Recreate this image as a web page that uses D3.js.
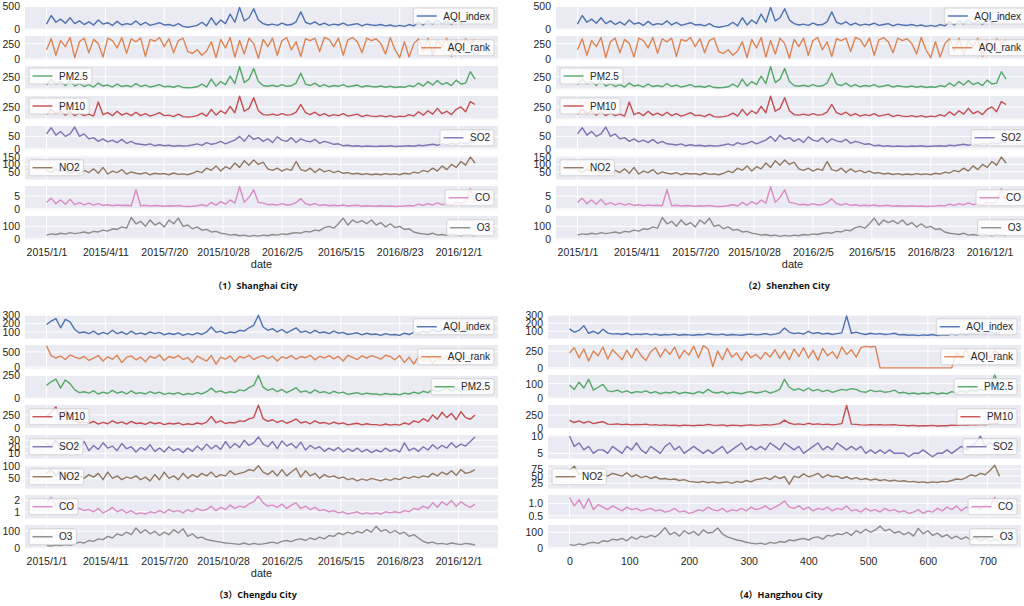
<!DOCTYPE html>
<html>
<head>
<meta charset="utf-8">
<script src="https://cdn.jsdelivr.net/npm/d3@7"></script>
<style>
  body { margin: 0; background: #fff; }
  svg { font-family: "Liberation Sans", Arial, sans-serif; }
</style>
</head>
<body>
<svg id="chart" width="1024" height="606"></svg>
<script>
// pollutant names and seaborn "deep" colours, one per subplot row
var pollutants = ["AQI_index", "AQI_rank", "PM2.5", "PM10", "SO2", "NO2", "CO", "O3"];
var colors = ["#4C72B0", "#DD8452", "#55A868", "#C44E52", "#8172B3", "#937860", "#DA8BC3", "#8C8C8C"];

// x ticks every 100 days (or 100 records for Hangzhou)
var xTickValues = [0, 100, 200, 300, 400, 500, 600, 700];
var dateTickLabels = ["2015/1/1", "2015/4/11", "2015/7/20", "2015/10/28", "2016/2/5", "2016/5/15", "2016/8/23", "2016/12/1"];
var indexTickLabels = ["0", "100", "200", "300", "400", "500", "600", "700"];

// values, one every 8 days from 2015/1/1
var shAQI = [110, 300, 150, 220, 130, 250, 120, 180, 100, 160,
  90, 200, 110, 140, 80, 170, 90, 120, 100, 180,
  90, 150, 80, 110, 140, 90, 100, 70, 120, 60,
  40, 60, 80, 150, 70, 250, 90, 200, 120, 330,
  150, 480, 180, 250, 450, 200, 120, 90, 110, 80,
  130, 90, 100, 160, 380, 150, 110, 160, 90, 130,
  80, 110, 90, 130, 80, 100, 120, 70, 110, 90,
  80, 100, 70, 90, 60, 80, 60, 100, 70, 160,
  90, 180, 110, 200, 120, 170, 100, 220, 130, 190,
  330, 200];
var shRank = [150, 330, 60, 300, 200, 350, 20, 280, 340, 100,
  320, 250, 30, 340, 300, 180, 350, 90, 330, 280,
  340, 40, 320, 290, 350, 200, 330, 100, 300, 340,
  120, 90, 150, 60, 130, 280, 20, 320, 180, 350,
  30, 300, 80, 340, 250, 10, 320, 200, 340, 60,
  300, 350, 150, 280, 40, 330, 300, 340, 120, 350,
  320, 200, 340, 60, 310, 350, 280, 100, 340, 300,
  330, 250, 80, 350, 150, 20, 280, 30, 250, 330,
  120, 340, 60, 300, 200, 340, 40, 310, 150, 330,
  250, 320];
var shPM25 = [80, 200, 100, 150, 70, 170, 60, 110, 50, 90,
  40, 120, 60, 80, 40, 100, 50, 70, 45, 110,
  50, 80, 40, 60, 90, 45, 55, 35, 70, 30,
  25, 30, 45, 100, 40, 200, 60, 150, 90, 260,
  110, 450, 130, 200, 415, 150, 70, 55, 75, 50,
  90, 55, 65, 120, 320, 100, 70, 120, 50, 90,
  45, 70, 55, 90, 45, 60, 80, 40, 65, 50,
  40, 60, 35, 55, 30, 45, 35, 70, 45, 120,
  60, 150, 80, 170, 90, 130, 70, 180, 100, 120,
  350, 200];
var shPM10 = [90, 200, 110, 160, 80, 150, 70, 120, 70, 100,
  60, 350, 90, 130, 70, 160, 80, 120, 70, 140,
  70, 110, 60, 90, 130, 70, 80, 50, 100, 50,
  40, 50, 70, 120, 60, 200, 80, 170, 110, 260,
  130, 470, 160, 220, 440, 170, 90, 80, 100, 75,
  110, 80, 90, 140, 300, 130, 90, 140, 70, 110,
  60, 90, 70, 110, 60, 80, 100, 50, 80, 60,
  50, 70, 45, 70, 40, 60, 50, 90, 60, 150,
  80, 170, 100, 220, 110, 160, 90, 200, 250, 150,
  360, 300];
var shSO2 = [60, 85, 55, 70, 50, 60, 88, 50, 60, 40,
  45, 30, 40, 28, 35, 25, 38, 22, 30, 20,
  18, 15, 20, 12, 16, 12, 14, 10, 13, 11,
  12, 15, 20, 14, 25, 18, 22, 30, 20, 28,
  35, 50, 30, 55, 38, 45, 30, 40, 25, 48,
  35, 30, 45, 25, 40, 32, 28, 38, 22, 30,
  25, 18, 20, 12, 14, 10, 12, 9, 11, 10,
  9, 11, 10, 12, 9, 10, 11, 12, 10, 14,
  12, 15, 18, 14, 20, 16, 22, 18, 25, 20,
  28, 24];
var shNO2 = [60, 45, 70, 50, 65, 40, 55, 35, 60, 45,
  70, 40, 80, 35, 55, 45, 65, 35, 50, 40,
  35, 45, 30, 40, 35, 38, 30, 42, 33, 36,
  30, 40, 55, 45, 75, 60, 90, 55, 85, 70,
  110, 80, 125, 95, 130, 100, 115, 70, 60, 75,
  55, 70, 60, 120, 65, 55, 75, 45, 70, 50,
  60, 45, 55, 40, 45, 35, 40, 32, 38, 30,
  35, 30, 38, 32, 36, 30, 40, 35, 48, 42,
  60, 50, 75, 55, 90, 65, 100, 80, 120, 95,
  150, 110];
var shCO = [2.5, 4.2, 2.0, 3.5, 1.8, 3.8, 1.6, 2.4, 1.5, 2.2,
  1.4, 2.0, 1.3, 1.6, 1.2, 1.5, 1.3, 1.4, 1.2, 7.5,
  1.2, 1.4, 1.1, 1.3, 1.2, 1.0, 1.2, 1.1, 1.3, 1.0,
  0.9, 1.0, 1.2, 1.6, 1.1, 2.5, 1.4, 2.8, 1.8, 3.5,
  2.2, 8.7, 2.6, 4.5, 7.5, 2.5, 2.2, 1.6, 1.8, 1.4,
  2.0, 1.5, 1.7, 2.4, 4.0, 2.0, 1.5, 2.0, 1.3, 1.6,
  1.2, 1.4, 1.2, 1.5, 1.1, 1.3, 1.4, 1.0, 1.2, 1.1,
  1.0, 1.2, 1.0, 1.1, 0.9, 1.0, 1.1, 1.3, 1.1, 1.8,
  1.3, 2.0, 1.5, 2.3, 1.6, 2.0, 1.5, 2.6, 1.8, 3.0,
  8.0, 2.5];
var shO3 = [30, 40, 35, 45, 38, 50, 42, 48, 55, 45,
  60, 55, 70, 62, 80, 75, 95, 85, 170, 120,
  140, 100, 150, 110, 130, 95, 150, 120, 165, 100,
  110, 80, 95, 70, 75, 55, 60, 45, 40, 30,
  35, 25, 30, 20, 28, 22, 30, 25, 35, 30,
  40, 35, 45, 50, 45, 60, 55, 70, 65, 90,
  100, 85, 120, 165, 110, 150, 130, 145, 120, 150,
  110, 130, 95, 120, 90, 100, 75, 80, 55, 45,
  40, 35, 45, 30, 35, 28, 40, 30, 25, 35,
  30, 25];

var cdAQI = [190, 230, 260, 150, 250, 220, 130, 90, 100, 80,
  110, 70, 95, 75, 120, 80, 100, 70, 110, 75,
  90, 70, 100, 80, 95, 65, 85, 70, 90, 60,
  80, 65, 90, 70, 100, 160, 95, 110, 80, 100,
  90, 120, 110, 150, 180, 300, 160, 120, 140, 100,
  130, 90, 120, 150, 95, 110, 85, 120, 90, 100,
  80, 110, 85, 95, 70, 80, 90, 65, 85, 70,
  75, 60, 80, 65, 70, 60, 85, 70, 95, 80,
  110, 90, 130, 100, 120, 150, 110, 140, 100, 130,
  120, 150];
var cdRank = [700, 380, 300, 360, 250, 400, 330, 280, 350, 220,
  300, 380, 200, 340, 260, 390, 150, 320, 370, 240,
  330, 180, 360, 290, 400, 220, 350, 300, 380, 250,
  320, 150, 360, 280, 200, 380, 100, 330, 260, 370,
  180, 350, 300, 390, 250, 330, 380, 280, 360, 200,
  340, 290, 380, 260, 350, 310, 390, 240, 360, 300,
  380, 270, 350, 200, 390, 320, 250, 370, 300, 380,
  330, 260, 390, 350, 240, 380, 150, 330, 100, 360,
  200, 340, 120, 300, 250, 360, 180, 320, 280, 350,
  260, 330];
var cdPM25 = [140, 180, 210, 110, 200, 160, 90, 60, 70, 55,
  80, 45, 65, 50, 85, 55, 70, 45, 80, 50,
  60, 45, 70, 50, 65, 40, 55, 45, 60, 35,
  50, 40, 60, 45, 70, 110, 65, 80, 55, 70,
  60, 90, 80, 115, 140, 250, 120, 85, 105, 70,
  95, 60, 85, 115, 65, 80, 55, 90, 60, 70,
  50, 75, 55, 65, 40, 50, 60, 40, 55, 45,
  45, 35, 50, 40, 45, 35, 55, 45, 65, 50,
  75, 60, 95, 70, 85, 115, 75, 105, 70, 95,
  85, 115];
var cdPM10 = [220, 300, 400, 180, 330, 260, 140, 100, 120, 95,
  130, 80, 110, 85, 140, 95, 120, 80, 130, 90,
  100, 75, 115, 85, 105, 70, 95, 80, 100, 65,
  85, 70, 100, 80, 115, 220, 105, 140, 90, 110,
  100, 140, 130, 175, 200, 430, 180, 130, 160, 110,
  145, 95, 130, 175, 100, 125, 85, 140, 95, 110,
  80, 115, 85, 100, 65, 80, 95, 65, 85, 70,
  70, 55, 80, 60, 75, 60, 100, 75, 140, 110,
  180, 130, 250, 170, 300, 200, 280, 160, 310, 200,
  170, 250];
var cdSO2 = [25, 20, 30, 18, 22, 15, 24, 18, 28, 14,
  22, 16, 26, 18, 21, 14, 25, 17, 20, 12,
  19, 15, 23, 13, 18, 12, 20, 14, 17, 11,
  18, 13, 21, 15, 24, 17, 22, 16, 28, 18,
  25, 19, 30, 22, 26, 35, 24, 20, 28, 17,
  29, 21, 25, 18, 27, 15, 22, 17, 20, 13,
  18, 14, 19, 12, 17, 13, 18, 12, 16, 11,
  15, 12, 18, 13, 16, 12, 26, 14, 18, 13,
  20, 15, 23, 17, 22, 18, 26, 19, 24, 21,
  28, 35];
var cdNO2 = [70, 85, 60, 80, 55, 65, 45, 60, 50, 65,
  55, 70, 45, 75, 50, 60, 45, 55, 50, 60,
  45, 55, 40, 65, 45, 75, 50, 60, 45, 70,
  50, 65, 55, 70, 60, 75, 55, 65, 60, 80,
  65, 70, 75, 85, 80, 100, 75, 65, 80, 60,
  85, 60, 75, 90, 55, 80, 60, 70, 50, 65,
  55, 60, 50, 55, 45, 50, 40, 48, 42, 50,
  45, 40, 48, 42, 50, 45, 55, 50, 58, 52,
  60, 55, 70, 60, 75, 65, 80, 62, 85, 70,
  75, 85];
var cdCO = [1.8, 2.3, 1.5, 2.0, 1.4, 1.6, 1.2, 1.3, 1.1, 1.2,
  1.0, 1.3, 0.9, 1.1, 1.4, 1.0, 1.2, 0.9, 1.1, 0.8,
  0.9, 0.8, 1.0, 0.9, 1.1, 0.9, 1.2, 1.0, 1.1, 0.9,
  1.2, 1.0, 1.3, 1.1, 1.2, 1.5, 1.1, 1.4, 1.2, 1.6,
  1.3, 1.5, 1.4, 1.7, 1.9, 2.4, 1.8, 1.5, 1.6, 1.4,
  1.7, 1.3, 1.6, 1.8, 1.3, 1.5, 1.2, 1.4, 1.1, 1.2,
  1.0, 1.1, 0.9, 1.0, 0.8, 0.9, 1.0, 0.8, 0.9, 0.8,
  0.9, 0.8, 1.0, 0.9, 1.0, 0.9, 1.1, 1.0, 1.3, 1.2,
  1.5, 1.3, 1.8, 1.4, 1.9, 1.6, 2.0, 1.5, 1.9, 1.6,
  1.4, 1.7];
var cdO3 = [15, 12, 18, 14, 20, 16, 25, 35, 30, 45,
  40, 55, 50, 70, 60, 85, 75, 95, 80, 120,
  90, 110, 85, 100, 75, 95, 80, 110, 90, 115,
  70, 85, 60, 65, 50, 45, 40, 35, 30, 28,
  25, 22, 30, 20, 28, 22, 25, 30, 35, 28,
  40, 45, 38, 50, 55, 45, 60, 50, 65, 55,
  75, 70, 90, 80, 95, 85, 100, 90, 110, 95,
  130, 100, 110, 90, 105, 85, 95, 70, 80, 60,
  40, 30, 35, 25, 28, 22, 30, 25, 20, 28,
  24, 18];

// Hangzhou: one value every 8 records, records 0..720
var hzAQI = [130, 90, 110, 170, 75, 100, 70, 125, 80, 65,
  70, 60, 75, 55, 65, 60, 70, 55, 65, 50,
  60, 55, 65, 50, 60, 55, 50, 60, 55, 70,
  60, 55, 65, 50, 60, 55, 50, 60, 65, 55,
  60, 70, 55, 65, 80, 140, 90, 70, 80, 65,
  100, 70, 85, 65, 75, 60, 70, 80, 290, 75,
  90, 70, 60, 75, 65, 70, 60, 65, 75, 55,
  60, 50, 55, 45, 55, 50, 60, 45, 55, 50,
  65, 55, 70, 60, 75, 65, 80, 70, 90, 75,
  85];
var hzRank = [220, 300, 150, 280, 100, 250, 180, 310, 130, 270,
  200, 120, 260, 150, 290, 180, 110, 240, 300, 160,
  280, 200, 310, 140, 260, 190, 320, 150, 330, 280,
  20, 250, 120, 290, 160, 220, 110, 240, 150, 200,
  130, 230, 160, 270, 140, 250, 120, 280, 170, 300,
  150, 260, 110, 290, 180, 240, 140, 310, 200, 270,
  160, 300, 320, 310, 320, 0, 0, 0, 0, 0,
  0, 0, 0, 0, 0, 0, 0, 0, 0, 0,
  0, 220, 150, 280, 120, 250, 180, 230, 140, 260,
  200];
var hzPM25 = [90, 60, 110, 70, 130, 55, 75, 95, 50, 45,
  55, 40, 50, 35, 45, 40, 50, 35, 45, 30,
  40, 35, 45, 30, 40, 35, 30, 45, 35, 60,
  40, 35, 45, 30, 40, 35, 30, 40, 45, 35,
  40, 50, 35, 45, 60, 130, 75, 55, 65, 50,
  70, 50, 60, 45, 55, 40, 50, 60, 55, 65,
  60, 45, 40, 55, 45, 50, 40, 45, 55, 35,
  40, 30, 35, 28, 35, 30, 40, 28, 35, 30,
  45, 35, 50, 40, 55, 45, 60, 50, 70, 160,
  80];
var hzPM10 = [150, 110, 140, 100, 130, 90, 110, 125, 80, 75,
  85, 70, 80, 65, 75, 70, 80, 60, 70, 55,
  65, 55, 60, 50, 60, 55, 50, 60, 55, 75,
  60, 55, 65, 50, 60, 55, 50, 60, 65, 55,
  60, 70, 60, 75, 90, 155, 100, 75, 85, 70,
  95, 75, 85, 70, 80, 65, 75, 90, 430, 80,
  75, 65, 60, 70, 65, 70, 60, 65, 70, 55,
  55, 50, 55, 45, 50, 48, 55, 45, 50, 48,
  60, 55, 65, 58, 70, 62, 75, 65, 85, 90,
  100];
var hzSO2 = [10, 7, 8, 6, 7, 5, 6, 6, 5, 7,
  6, 5, 7, 6, 8, 6, 5, 7, 6, 5,
  7, 8, 6, 7, 5, 6, 7, 6, 5, 6,
  5, 6, 7, 5, 6, 7, 8, 6, 7, 6,
  7, 6, 8, 7, 6, 8, 7, 6, 7, 5,
  6, 7, 8, 6, 7, 6, 8, 7, 6, 7,
  6, 7, 5, 6, 5, 6, 5, 6, 5, 5,
  5, 4, 5, 5, 6, 5, 4, 5, 5, 6,
  5, 6, 7, 6, 7, 8, 10, 7, 8, 7,
  8];
var hzNO2 = [70, 85, 55, 65, 50, 60, 45, 55, 50, 60,
  55, 50, 62, 48, 55, 45, 50, 42, 48, 40,
  42, 38, 40, 35, 38, 32, 30, 28, 32, 27,
  30, 26, 28, 30, 25, 32, 28, 35, 30, 38,
  40, 45, 38, 50, 42, 48, 22, 50, 45, 58,
  48, 52, 60, 45, 55, 48, 50, 42, 48, 40,
  45, 38, 42, 36, 40, 35, 38, 33, 36, 32,
  34, 30, 32, 28, 30, 27, 30, 28, 32, 30,
  35, 40, 38, 45, 55, 50, 60, 55, 70, 88,
  50];
var hzCO = [1.25, 0.9, 1.15, 0.8, 1.2, 0.75, 0.95, 0.85, 0.75, 0.9,
  0.8, 0.7, 0.85, 0.75, 0.8, 0.7, 0.75, 0.8, 0.7, 0.75,
  0.65, 0.7, 0.8, 0.65, 0.7, 0.6, 0.65, 0.75, 0.7, 0.85,
  0.75, 0.7, 0.8, 0.65, 0.75, 0.7, 0.8, 0.7, 0.85, 0.75,
  0.8, 0.9, 0.75, 0.85, 0.95, 1.1, 0.85, 0.8, 0.9, 0.75,
  0.85, 0.7, 0.8, 0.75, 0.85, 0.7, 0.8, 0.75, 0.9, 0.7,
  0.75, 0.65, 0.8, 0.7, 0.75, 0.65, 0.8, 0.7, 0.75, 0.65,
  0.7, 0.6, 0.65, 0.75, 0.6, 0.7, 0.65, 0.8, 0.7, 0.85,
  0.75, 0.9, 0.7, 0.85, 0.8, 0.9, 0.75, 0.95, 0.85, 1.25,
  0.9];
var hzO3 = [20, 15, 25, 18, 30, 35, 28, 45, 40, 55,
  50, 60, 45, 70, 55, 75, 65, 80, 70, 95,
  130, 85, 100, 75, 110, 90, 105, 80, 115, 95,
  100, 128, 90, 70, 60, 50, 45, 35, 30, 25,
  30, 22, 35, 28, 40, 35, 50, 45, 55, 60,
  50, 65, 70, 55, 80, 75, 90, 85, 100, 80,
  110, 95, 120, 100, 115, 140, 110, 120, 95, 105,
  85, 100, 75, 125, 90, 110, 80, 95, 70, 85,
  60, 75, 55, 70, 50, 65, 45, 60, 40, 55,
  45];

// y view limits and tick values per row
var shDomains = [[-10, 510], [-10, 375], [-10, 465], [-10, 475], [-3, 92], [-2, 157], [-0.3, 9], [-5, 182]];
var shTicks = [[0, 500], [0, 250], [0, 250], [0, 250], [0, 50], [50, 100, 150], [0, 5], [0, 100]];
var cdDomains = [[22, 303], [-45, 728], [-5, 255], [-3, 435], [2, 38], [10, 103], [0.4, 2.5], [-3, 138]];
var cdTicks = [[100, 200, 300], [0, 500], [0, 250], [0, 250], [10, 20, 30], [50, 100], [1, 2], [0, 100]];
var hzDomains = [[10, 302], [-10, 340], [-3, 160], [-3, 440], [3.5, 10.3], [7, 89], [0.39, 1.34], [-5, 147]];
var hzTicks = [[100, 200, 300], [0, 250], [0, 100], [0, 250], [5, 10], [25, 50, 75], [0.5, 1.0], [0, 100]];

// legend placement per row: r/l = right/left, u/c = upper/center
var shLegend = ["ru", "rc", "lu", "lu", "rc", "lc", "rc", "rc"];
var cdLegend = ["rc", "rc", "rc", "lc", "lc", "lc", "lc", "lc"];
var hzLegend = ["rc", "rc", "rc", "rc", "rc", "lc", "rc", "rc"];

var shanghai = [shAQI, shRank, shPM25, shPM10, shSO2, shNO2, shCO, shO3];
var chengdu = [cdAQI, cdRank, cdPM25, cdPM10, cdSO2, cdNO2, cdCO, cdO3];
var hangzhou = [hzAQI, hzRank, hzPM25, hzPM10, hzSO2, hzNO2, hzCO, hzO3];

var panels = [
  { title: "（1）Shanghai City", ox: 0, oy: 0, series: shanghai, domains: shDomains, ticks: shTicks, legend: shLegend, xLabels: dateTickLabels, xName: "date", xDomain: [-36.5, 767] },
  { title: "（2）Shenzhen City", ox: 531, oy: 0, series: shanghai, domains: shDomains, ticks: shTicks, legend: shLegend, xLabels: dateTickLabels, xName: "date", xDomain: [-36.5, 767] },
  { title: "（3）Chengdu City", ox: 0, oy: 309, series: chengdu, domains: cdDomains, ticks: cdTicks, legend: cdLegend, xLabels: dateTickLabels, xName: "date", xDomain: [-36.5, 767] },
  { title: "（4）Hangzhou City", ox: 523, oy: 309, series: hangzhou, domains: hzDomains, ticks: hzTicks, legend: hzLegend, xLabels: indexTickLabels, xName: "", xDomain: [-36, 756] }
];

var step = 8;
var margin = { left: 25, top: 6 };
var width = 473,
    rowH = 23.5,
    rowStep = 30;
var axisBottomY = 7 * rowStep + rowH;

var svg = d3.select("#chart");

panels.forEach(function(p) {
  var g = svg.append("g")
    .attr("transform", "translate(" + (p.ox + margin.left) + "," + (p.oy + margin.top) + ")");

  var x = d3.scaleLinear().domain(p.xDomain).range([0, width]);

  p.series.forEach(function(values, r) {
    var row = g.append("g").attr("transform", "translate(0," + (r * rowStep) + ")");
    var y = d3.scaleLinear().domain(p.domains[r]).range([rowH, 0]);

    row.append("rect")
      .attr("width", width)
      .attr("height", rowH)
      .attr("fill", "#EAEAF2");

    // grid
    row.selectAll(".hgrid").data(p.ticks[r]).enter().append("line")
      .attr("x1", 0).attr("x2", width)
      .attr("y1", function(d) { return y(d); })
      .attr("y2", function(d) { return y(d); })
      .attr("stroke", "#fff").attr("stroke-width", 1);
    row.selectAll(".vgrid").data(xTickValues).enter().append("line")
      .attr("x1", function(d) { return x(d); })
      .attr("x2", function(d) { return x(d); })
      .attr("y1", 0).attr("y2", rowH)
      .attr("stroke", "#fff").attr("stroke-width", 1);

    var line = d3.line()
      .x(function(d, i) { return x(i * step); })
      .y(function(d) { return y(d); });

    row.append("path")
      .datum(values)
      .attr("d", line)
      .attr("fill", "none")
      .attr("stroke", colors[r])
      .attr("stroke-width", 1.4)
      .attr("stroke-linejoin", "round");

    var decimals = p.ticks[r].some(function(t) { return t % 1 !== 0; });
    var yAxis = d3.axisLeft(y)
      .tickValues(p.ticks[r])
      .tickSize(0)
      .tickPadding(5)
      .tickFormat(decimals ? d3.format(".1f") : d3.format("d"));
    var ya = row.append("g").call(yAxis)
      .attr("font-family", "Liberation Sans, Arial, sans-serif")
      .attr("font-size", 10.5)
      .style("color", "#262626");
    ya.select(".domain").remove();

    // legend
    var pos = p.legend[r];
    var lg = row.append("g");
    var box = lg.append("rect")
      .attr("height", 16)
      .attr("rx", 2)
      .attr("fill", "#fff")
      .attr("fill-opacity", 0.8)
      .attr("stroke", "#ccc")
      .attr("stroke-width", 0.8);
    lg.append("line")
      .attr("x1", 3.5).attr("x2", 23.5)
      .attr("y1", 8).attr("y2", 8)
      .attr("stroke", colors[r])
      .attr("stroke-width", 1.4);
    var t = lg.append("text")
      .attr("x", 30)
      .attr("y", 11.5)
      .attr("font-size", 10)
      .attr("fill", "#262626")
      .text(pollutants[r]);
    var bw = 30 + t.node().getComputedTextLength() + 4;
    box.attr("width", bw);
    var lx = pos[0] === "r" ? width - 4 - bw : 4;
    var ly = pos[1] === "u" ? 2 : (rowH - 16) / 2;
    lg.attr("transform", "translate(" + lx + "," + ly + ")");
  });

  // x axis under the last row
  var xAxis = d3.axisBottom(x)
    .tickValues(xTickValues)
    .tickSize(0)
    .tickPadding(9)
    .tickFormat(function(d, i) { return p.xLabels[i]; });
  var xa = g.append("g")
    .attr("transform", "translate(0," + axisBottomY + ")")
    .call(xAxis)
    .attr("font-family", "Liberation Sans, Arial, sans-serif")
    .attr("font-size", 10.5)
    .style("color", "#262626");
  xa.select(".domain").remove();

  if (p.xName) {
    g.append("text")
      .attr("x", width / 2)
      .attr("y", axisBottomY + 28.5)
      .attr("text-anchor", "middle")
      .attr("font-size", 11)
      .attr("fill", "#262626")
      .text(p.xName);
  }

  // panel caption
  g.append("text")
    .attr("x", width / 2 - 6)
    .attr("y", axisBottomY + 49)
    .attr("text-anchor", "middle")
    .attr("font-family", "Open Sans, Noto Sans CJK SC, sans-serif")
    .attr("font-weight", "bold")
    .attr("font-size", 9)
    .attr("fill", "#111")
    .text(p.title);
});
</script>
</body>
</html>
